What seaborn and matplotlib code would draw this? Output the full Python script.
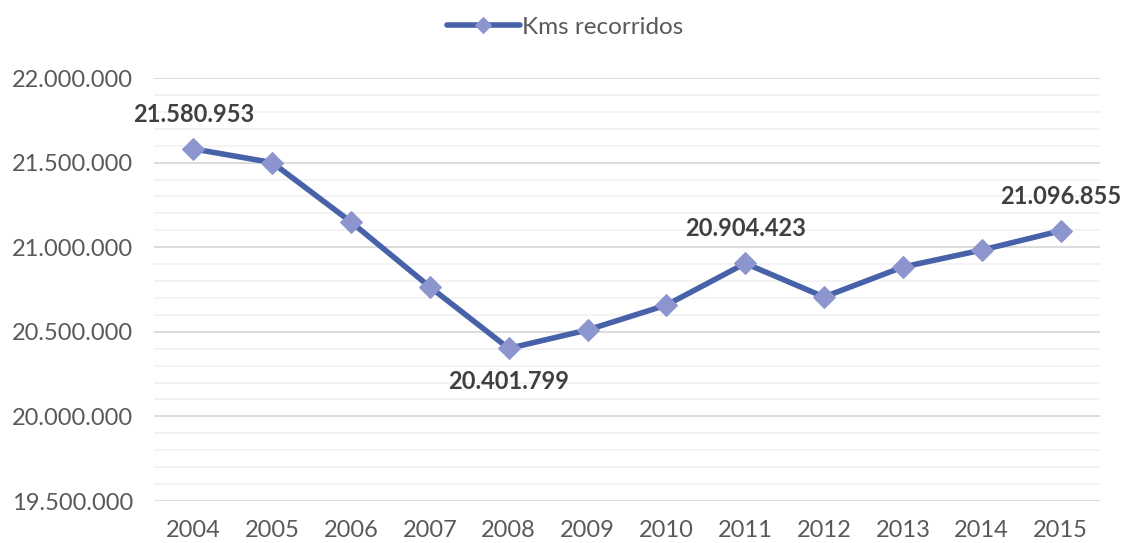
import matplotlib
matplotlib.use("Agg")
import matplotlib.pyplot as plt
import seaborn as sns
import pandas as pd
from matplotlib.ticker import MultipleLocator, FuncFormatter

years = ["2004", "2005", "2006", "2007", "2008", "2009", "2010", "2011", "2012", "2013", "2014", "2015"]
kms = [21580953, 21500000, 21149000, 20765000, 20401799, 20511000, 20658000, 20904423, 20706000, 20883000, 20983000, 21096855]
series_name = "Kms recorridos"
labeled_years = ["2004", "2008", "2011", "2015"]
label_pos = ["above", "below", "above", "above"]

df = pd.DataFrame({"year": years, "kms": kms})

sns.set_theme(style="white")
plt.rcParams['font.family'] = ['Lato', 'DejaVu Sans']

fig = plt.figure(figsize=(11.23, 5.43), dpi=100)
ax = fig.add_axes([154/1123, 1 - 501/543, (1100-154)/1123, (501-78)/543])

line_color = "#4862A9"
marker_color = "#8D95CF"

sns.lineplot(data=df, x="year", y="kms", ax=ax, color=line_color, linewidth=4,
             marker="D", markersize=11, markerfacecolor=marker_color,
             markeredgecolor=marker_color, label=series_name, sort=False)

ax.set_ylim(19500000, 22000000)
ax.set_xlim(-0.5, len(years) - 0.5)
ax.yaxis.set_major_locator(MultipleLocator(500000))
ax.yaxis.set_minor_locator(MultipleLocator(100000))
ax.yaxis.set_major_formatter(FuncFormatter(lambda v, p: f"{int(v):,}".replace(",", ".")))
ax.grid(which="major", axis="y", color="#D9D9D9", linewidth=1.3)
ax.grid(which="minor", axis="y", color="#F2F2F2", linewidth=1.3)
ax.set_axisbelow(True)
for s in ax.spines.values():
    s.set_visible(False)
ax.tick_params(axis="both", which="both", length=0, labelcolor="#595959")
ax.tick_params(axis="y", labelsize=17, pad=15)
ax.tick_params(axis="x", labelsize=17, pad=14)
ax.set_xlabel("")
ax.set_ylabel("")

for yr, pos in zip(labeled_years, label_pos):
    i = years.index(yr)
    v = kms[i]
    off = 25 if pos == "above" else -24
    ax.annotate(f"{v:,}".replace(",", "."), (i, v), xytext=(0, off), textcoords="offset points",
                ha="center", va="center", fontsize=17, fontweight="bold", color="#404040")

ax.legend(loc="center", bbox_to_anchor=(565/1123, 1 - 27/543), bbox_transform=fig.transFigure,
          frameon=False, fontsize=17.5, labelcolor="#595959", handlelength=3.0, handletextpad=0.1,
          markerscale=0.7)

fig.savefig("out.png", dpi=100)
